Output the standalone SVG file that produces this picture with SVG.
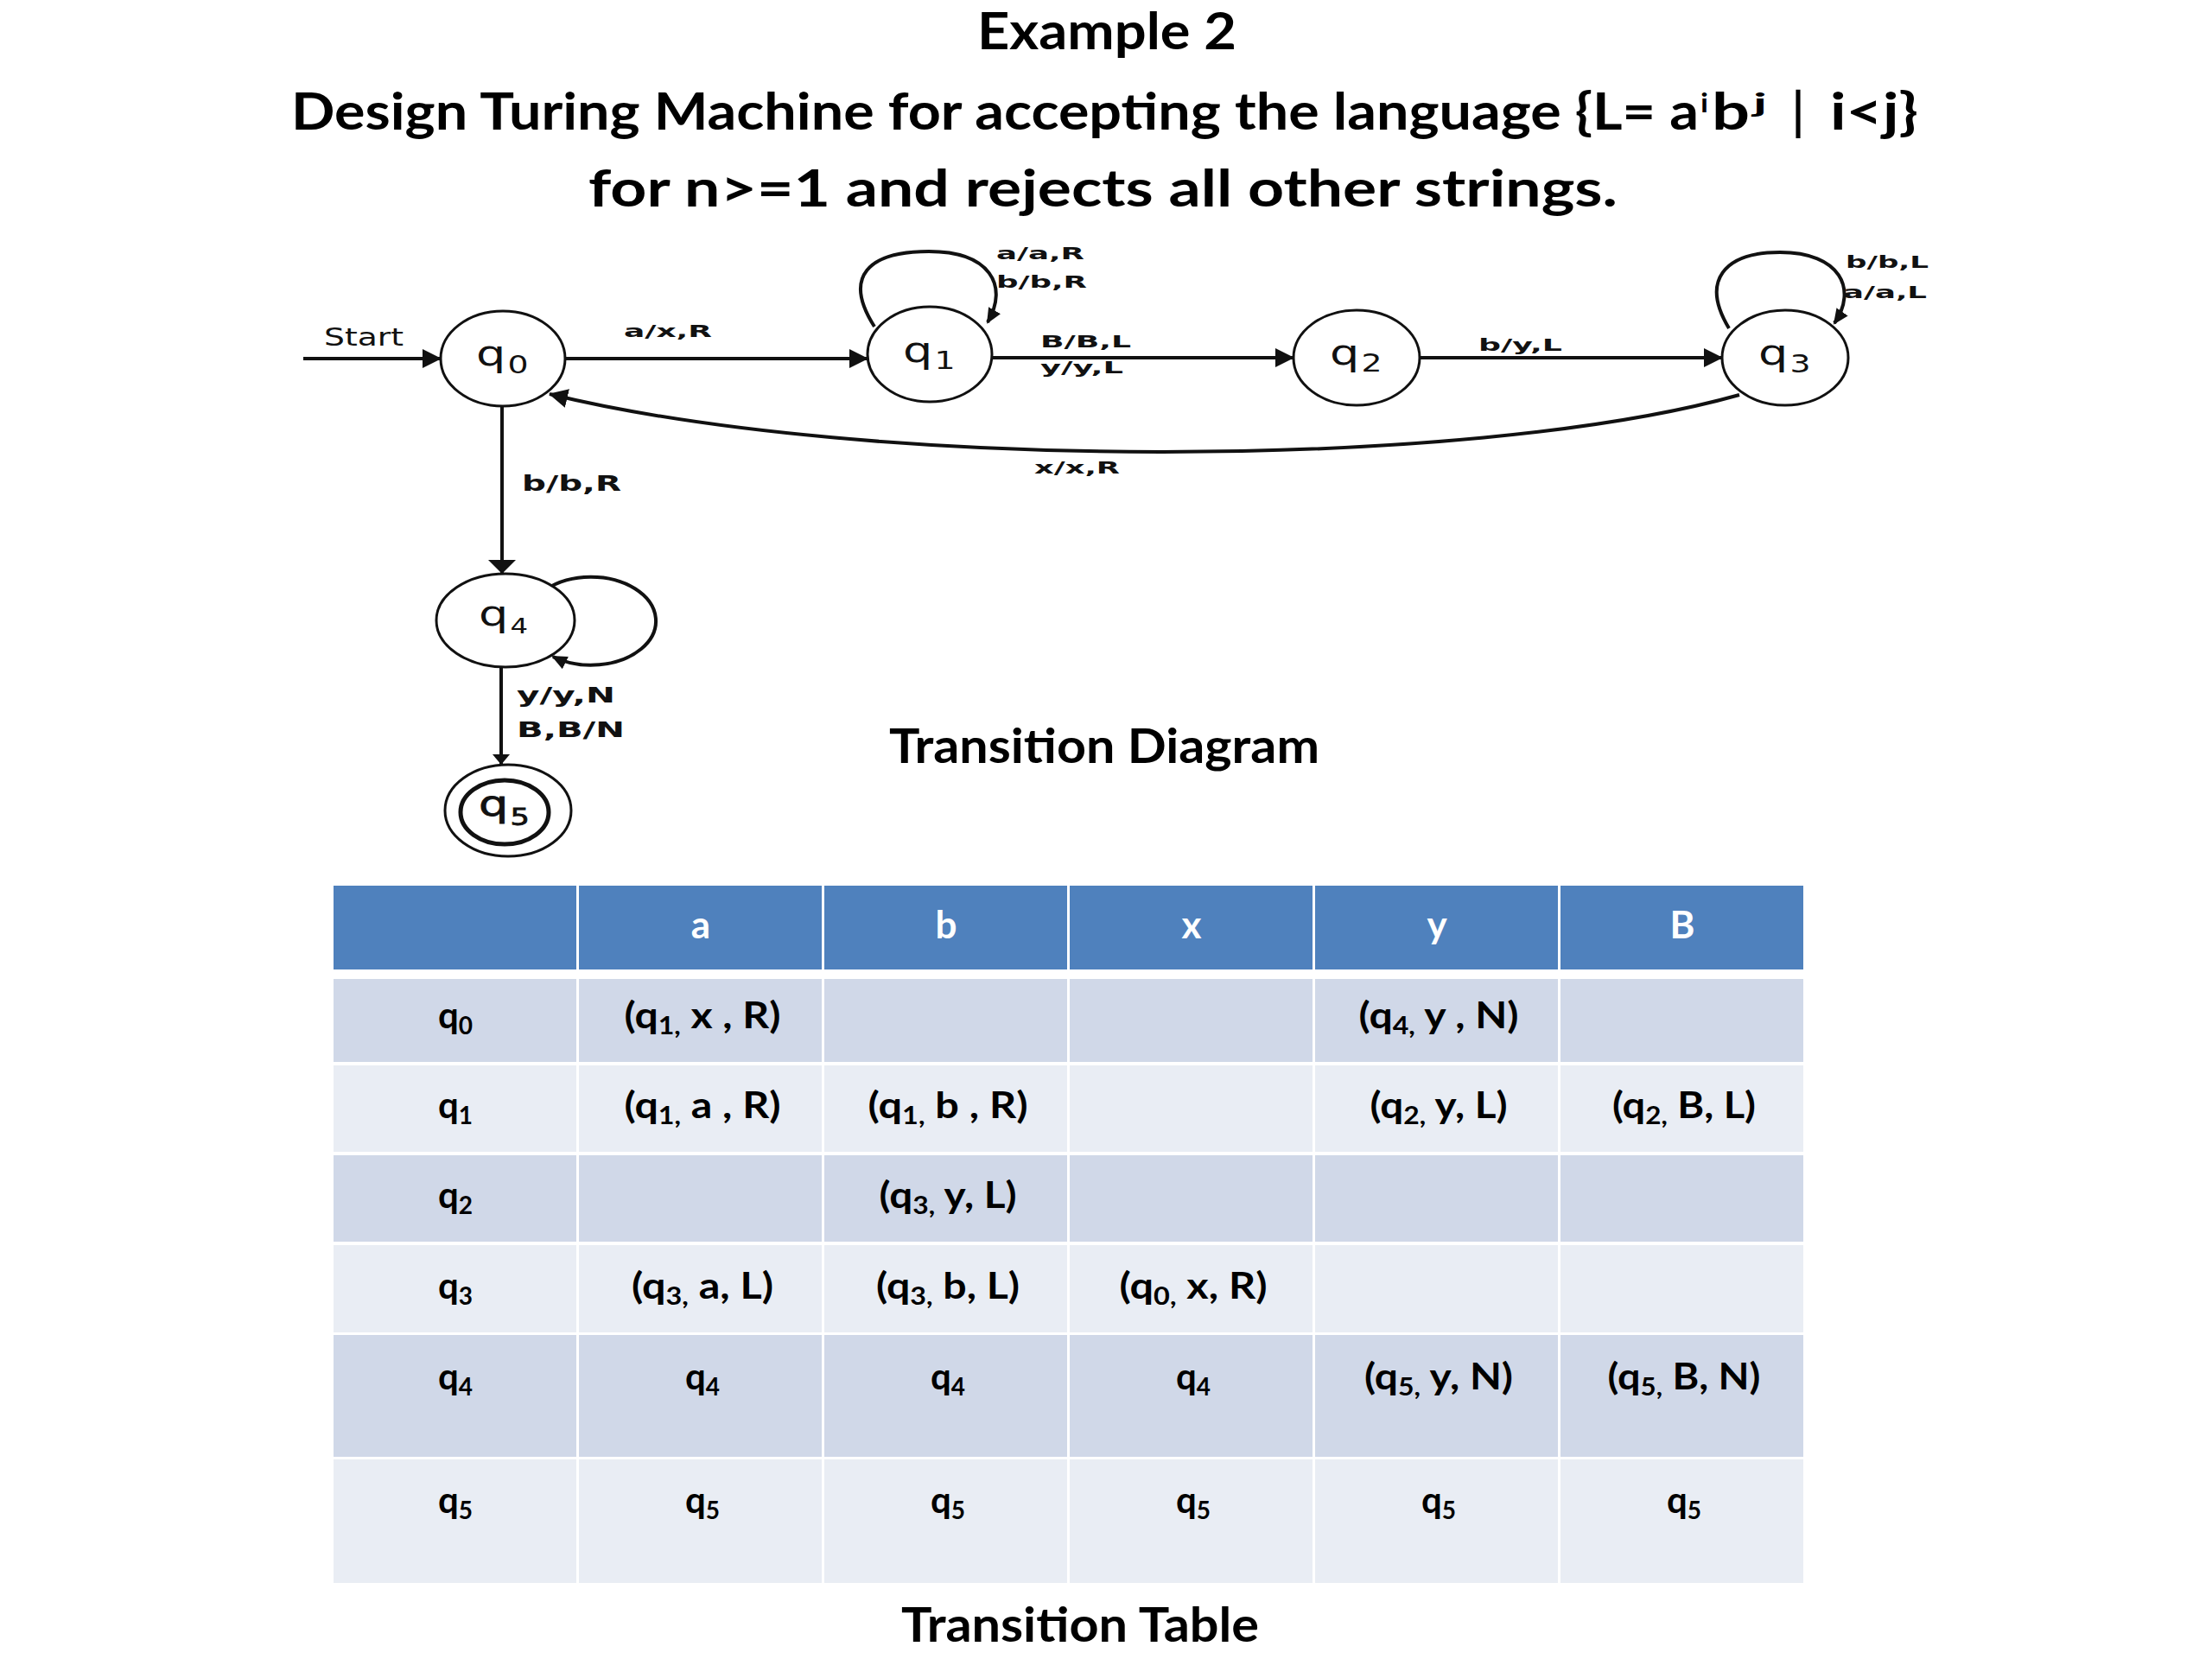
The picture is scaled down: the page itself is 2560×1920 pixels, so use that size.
<svg xmlns="http://www.w3.org/2000/svg" width="2560" height="1920" viewBox="0 0 2560 1920">
<style>
.title{font-family:Lato,"Open Sans","Liberation Sans",sans-serif;font-weight:700;fill:#000}
.lbl{font-family:"DejaVu Sans","Liberation Sans",sans-serif;font-weight:700;font-size:20px;fill:#111}
.big{font-size:25px}
.st{font-family:"DejaVu Sans","Liberation Sans",sans-serif;fill:#111}
.ring{fill:#fff;stroke:#111;stroke-width:3}
.edge{fill:none;stroke:#111;stroke-width:4}
.cell{font-family:Lato,"Open Sans","Liberation Sans",sans-serif;font-weight:700;font-size:42px;fill:#000;text-anchor:middle}
.hd{fill:#fff;font-size:44px}
.sub{font-size:28px}
.dk{fill:#D0D8E8}
.lt{fill:#E9EDF4}
.hb{fill:#4F81BD}
</style>
<defs>
<marker id="ah" markerWidth="22" markerHeight="22" refX="21" refY="11" orient="auto" markerUnits="userSpaceOnUse"><path d="M0,0 L22,11 L0,22 z" fill="#111"/></marker>
<marker id="av" markerWidth="16" markerHeight="32" refX="15" refY="16" orient="auto" markerUnits="userSpaceOnUse"><path d="M0,0 L16,16 L0,32 z" fill="#111"/></marker>
<marker id="av2" markerWidth="12" markerHeight="20" refX="11" refY="10" orient="auto" markerUnits="userSpaceOnUse"><path d="M0,0 L12,10 L0,20 z" fill="#111"/></marker>
<marker id="al" markerWidth="18" markerHeight="16" refX="16" refY="8" orient="auto" markerUnits="userSpaceOnUse"><path d="M0,0 L18,8 L0,16 z" fill="#111"/></marker>
</defs>
<rect width="2560" height="1920" fill="#fff"/>

<g id="titles">
<text class="title" x="1131" y="57" font-size="60" textLength="300" lengthAdjust="spacingAndGlyphs">Example 2</text>
<text class="title" x="337" y="150" font-size="60" textLength="1629" lengthAdjust="spacingAndGlyphs">Design Turing Machine for accepting the language {L= a</text>
<text class="title" x="1968" y="130" font-size="30" textLength="9" lengthAdjust="spacingAndGlyphs">i</text>
<text class="title" x="1981" y="150" font-size="60" textLength="44" lengthAdjust="spacingAndGlyphs">b</text>
<text class="title" x="2029" y="130" font-size="30" textLength="16" lengthAdjust="spacingAndGlyphs">j</text>
<text class="title" x="2074" y="150" font-size="60" textLength="14" lengthAdjust="spacingAndGlyphs">|</text>
<text class="title" x="2118" y="150" font-size="60" textLength="102" lengthAdjust="spacingAndGlyphs">i&lt;j}</text>
<text class="title" x="681" y="239" font-size="60" textLength="1191" lengthAdjust="spacingAndGlyphs">for n&gt;=1 and rejects all other strings.</text>
<text class="title" x="1029" y="883" font-size="56" textLength="498" lengthAdjust="spacingAndGlyphs">Transition Diagram</text>
<text class="title" x="1043" y="1900" font-size="56" textLength="414" lengthAdjust="spacingAndGlyphs">Transition Table</text>
</g>

<g id="connectors">
<path id="e-start" class="edge" d="M351,415 L510,415" marker-end="url(#ah)"/>
<path id="e-q0q1" class="edge" d="M654,415 L1004,415" marker-end="url(#ah)"/>
<path id="e-q1q2" class="edge" d="M1148,414 L1497,414" marker-end="url(#ah)"/>
<path id="e-q2q3" class="edge" d="M1643,414 L1993,414" marker-end="url(#ah)"/>
<path id="e-q3q0" class="edge" stroke-width="4.5" d="M2013,457 C1700,545 1000,545 636,456" marker-end="url(#ah)"/>
<path id="e-q1loop" class="edge" stroke-width="3" d="M1012,378 C975,320 1005,291 1075,291 C1145,291 1168,330 1143,373" marker-end="url(#al)"/>
<path id="e-q3loop" class="edge" stroke-width="3" d="M2001,380 C1968,325 1995,292 2060,292 C2130,292 2150,335 2123,374" marker-end="url(#al)"/>
<path id="e-q0q4" class="edge" stroke-width="3.5" d="M581,470 L581,663" marker-end="url(#av)"/>
<path id="e-q4loop" class="edge" stroke-width="3" d="M632,682 A75,51 0 1 1 640,760" marker-end="url(#al)"/>
<path id="e-q4q5" class="edge" stroke-width="2" d="M580,772 L580,884" marker-end="url(#av2)"/>
</g>

<g id="edge-labels">
<text class="st" x="375" y="400" font-size="28" fill="#333" textLength="92" lengthAdjust="spacingAndGlyphs">Start</text>
<text class="lbl" x="722" y="390" font-size="21" textLength="102" lengthAdjust="spacingAndGlyphs">a/x,R</text>
<text class="lbl" x="1153" y="300" textLength="102" lengthAdjust="spacingAndGlyphs">a/a,R</text>
<text class="lbl" x="1153" y="333" textLength="105" lengthAdjust="spacingAndGlyphs">b/b,R</text>
<text class="lbl" x="1204" y="402" textLength="105" lengthAdjust="spacingAndGlyphs">B/B,L</text>
<text class="lbl" x="1204" y="432" textLength="96" lengthAdjust="spacingAndGlyphs">y/y,L</text>
<text class="lbl" x="1711" y="406" textLength="97" lengthAdjust="spacingAndGlyphs">b/y,L</text>
<text class="lbl" x="2136" y="310" textLength="96" lengthAdjust="spacingAndGlyphs">b/b,L</text>
<text class="lbl" x="2133" y="345" textLength="97" lengthAdjust="spacingAndGlyphs">a/a,L</text>
<text class="lbl" x="1197" y="548" textLength="99" lengthAdjust="spacingAndGlyphs">x/x,R</text>
<text class="lbl big" x="604" y="568" textLength="115" lengthAdjust="spacingAndGlyphs">b/b,R</text>
<text class="lbl big" x="598" y="813" font-size="24" textLength="114" lengthAdjust="spacingAndGlyphs">y/y,N</text>
<text class="lbl big" x="598" y="853" font-size="24" textLength="125" lengthAdjust="spacingAndGlyphs">B,B/N</text>
</g>

<g id="q0"><ellipse class="ring" cx="582" cy="415" rx="72" ry="55"/>
<g transform="translate(582,415) scale(1.35,1)"><text class="st" x="-23" y="8" font-size="40">q</text><text class="st" x="4" y="17" font-size="28">0</text></g></g>
<g id="q1"><ellipse class="ring" cx="1076" cy="410" rx="72" ry="55"/>
<g transform="translate(1076,410) scale(1.35,1)"><text class="st" x="-23" y="9" font-size="40">q</text><text class="st" x="4" y="17" font-size="28">1</text></g></g>
<g id="q2"><ellipse class="ring" cx="1570" cy="414" rx="73" ry="55"/>
<g transform="translate(1570,414) scale(1.35,1)"><text class="st" x="-23" y="8" font-size="40">q</text><text class="st" x="4" y="16" font-size="28">2</text></g></g>
<g id="q3"><ellipse class="ring" cx="2066" cy="414" rx="73" ry="55"/>
<g transform="translate(2066,414) scale(1.35,1)"><text class="st" x="-23" y="8" font-size="40">q</text><text class="st" x="4" y="17" font-size="28">3</text></g></g>
<g id="q4"><ellipse class="ring" cx="585" cy="718" rx="80" ry="54"/>
<g transform="translate(585,718) scale(1.35,1)"><text class="st" x="-23" y="6" font-size="40">q</text><text class="st" x="4" y="15" font-size="24">4</text></g></g>
<g id="q5"><ellipse class="ring" cx="588" cy="938" rx="73" ry="53"/>
<ellipse fill="none" stroke="#111" stroke-width="5" cx="584" cy="940" rx="51" ry="37"/>
<g transform="translate(585,940) scale(1.35,1)"><text class="st" x="-23" y="4" font-size="40" stroke="#111" stroke-width="0.8">q</text><text class="st" x="4" y="15" font-size="26" stroke="#111" stroke-width="0.8">5</text></g></g>

<g id="table">
<rect class="hb" x="386" y="1025" width="281" height="97"/>
<rect class="hb" x="670" y="1025" width="281" height="97"/>
<rect class="hb" x="954" y="1025" width="281" height="97"/>
<rect class="hb" x="1238" y="1025" width="281" height="97"/>
<rect class="hb" x="1522" y="1025" width="281" height="97"/>
<rect class="hb" x="1806" y="1025" width="281" height="97"/>
<g class="dk">
<rect x="386" y="1133" width="281" height="96"/><rect x="670" y="1133" width="281" height="96"/><rect x="954" y="1133" width="281" height="96"/><rect x="1238" y="1133" width="281" height="96"/><rect x="1522" y="1133" width="281" height="96"/><rect x="1806" y="1133" width="281" height="96"/>
<rect x="386" y="1337" width="281" height="100"/><rect x="670" y="1337" width="281" height="100"/><rect x="954" y="1337" width="281" height="100"/><rect x="1238" y="1337" width="281" height="100"/><rect x="1522" y="1337" width="281" height="100"/><rect x="1806" y="1337" width="281" height="100"/>
<rect x="386" y="1545" width="281" height="141"/><rect x="670" y="1545" width="281" height="141"/><rect x="954" y="1545" width="281" height="141"/><rect x="1238" y="1545" width="281" height="141"/><rect x="1522" y="1545" width="281" height="141"/><rect x="1806" y="1545" width="281" height="141"/>
</g>
<g class="lt">
<rect x="386" y="1233" width="281" height="100"/><rect x="670" y="1233" width="281" height="100"/><rect x="954" y="1233" width="281" height="100"/><rect x="1238" y="1233" width="281" height="100"/><rect x="1522" y="1233" width="281" height="100"/><rect x="1806" y="1233" width="281" height="100"/>
<rect x="386" y="1441" width="281" height="101"/><rect x="670" y="1441" width="281" height="101"/><rect x="954" y="1441" width="281" height="101"/><rect x="1238" y="1441" width="281" height="101"/><rect x="1522" y="1441" width="281" height="101"/><rect x="1806" y="1441" width="281" height="101"/>
<rect x="386" y="1689" width="281" height="143"/><rect x="670" y="1689" width="281" height="143"/><rect x="954" y="1689" width="281" height="143"/><rect x="1238" y="1689" width="281" height="143"/><rect x="1522" y="1689" width="281" height="143"/><rect x="1806" y="1689" width="281" height="143"/>
</g>

<text class="cell hd" x="811" y="1086">a</text>
<text class="cell hd" x="1095" y="1086">b</text>
<text class="cell hd" x="1379" y="1086">x</text>
<text class="cell hd" x="1663" y="1086">y</text>
<text class="cell hd" x="1947" y="1086">B</text>

<text class="cell" x="527" y="1190">q<tspan class="sub" dy="7">0</tspan></text>
<text class="cell" x="813" y="1190" textLength="181" lengthAdjust="spacingAndGlyphs">(q<tspan class="sub" dy="7">1,</tspan><tspan dy="-7"> x , R)</tspan></text>
<text class="cell" x="1665" y="1190" textLength="185" lengthAdjust="spacingAndGlyphs">(q<tspan class="sub" dy="7">4,</tspan><tspan dy="-7"> y , N)</tspan></text>

<text class="cell" x="527" y="1294">q<tspan class="sub" dy="7">1</tspan></text>
<text class="cell" x="813" y="1294" textLength="181" lengthAdjust="spacingAndGlyphs">(q<tspan class="sub" dy="7">1,</tspan><tspan dy="-7"> a , R)</tspan></text>
<text class="cell" x="1097" y="1294" textLength="185" lengthAdjust="spacingAndGlyphs">(q<tspan class="sub" dy="7">1,</tspan><tspan dy="-7"> b , R)</tspan></text>
<text class="cell" x="1665" y="1294" textLength="159" lengthAdjust="spacingAndGlyphs">(q<tspan class="sub" dy="7">2,</tspan><tspan dy="-7"> y, L)</tspan></text>
<text class="cell" x="1949" y="1294" textLength="166" lengthAdjust="spacingAndGlyphs">(q<tspan class="sub" dy="7">2,</tspan><tspan dy="-7"> B, L)</tspan></text>

<text class="cell" x="527" y="1398">q<tspan class="sub" dy="7">2</tspan></text>
<text class="cell" x="1097" y="1398" textLength="159" lengthAdjust="spacingAndGlyphs">(q<tspan class="sub" dy="7">3,</tspan><tspan dy="-7"> y, L)</tspan></text>

<text class="cell" x="527" y="1503">q<tspan class="sub" dy="7">3</tspan></text>
<text class="cell" x="813" y="1503" textLength="164" lengthAdjust="spacingAndGlyphs">(q<tspan class="sub" dy="7">3,</tspan><tspan dy="-7"> a, L)</tspan></text>
<text class="cell" x="1097" y="1503" textLength="166" lengthAdjust="spacingAndGlyphs">(q<tspan class="sub" dy="7">3,</tspan><tspan dy="-7"> b, L)</tspan></text>
<text class="cell" x="1381" y="1503" textLength="171" lengthAdjust="spacingAndGlyphs">(q<tspan class="sub" dy="7">0,</tspan><tspan dy="-7"> x, R)</tspan></text>

<text class="cell" x="527" y="1608">q<tspan class="sub" dy="7">4</tspan></text>
<text class="cell" x="813" y="1608">q<tspan class="sub" dy="7">4</tspan></text>
<text class="cell" x="1097" y="1608">q<tspan class="sub" dy="7">4</tspan></text>
<text class="cell" x="1381" y="1608">q<tspan class="sub" dy="7">4</tspan></text>
<text class="cell" x="1665" y="1608" textLength="172" lengthAdjust="spacingAndGlyphs">(q<tspan class="sub" dy="7">5,</tspan><tspan dy="-7"> y, N)</tspan></text>
<text class="cell" x="1949" y="1608" textLength="177" lengthAdjust="spacingAndGlyphs">(q<tspan class="sub" dy="7">5,</tspan><tspan dy="-7"> B, N)</tspan></text>

<text class="cell" x="527" y="1751">q<tspan class="sub" dy="7">5</tspan></text>
<text class="cell" x="813" y="1751">q<tspan class="sub" dy="7">5</tspan></text>
<text class="cell" x="1097" y="1751">q<tspan class="sub" dy="7">5</tspan></text>
<text class="cell" x="1381" y="1751">q<tspan class="sub" dy="7">5</tspan></text>
<text class="cell" x="1665" y="1751">q<tspan class="sub" dy="7">5</tspan></text>
<text class="cell" x="1949" y="1751">q<tspan class="sub" dy="7">5</tspan></text>
</g>
</svg>
